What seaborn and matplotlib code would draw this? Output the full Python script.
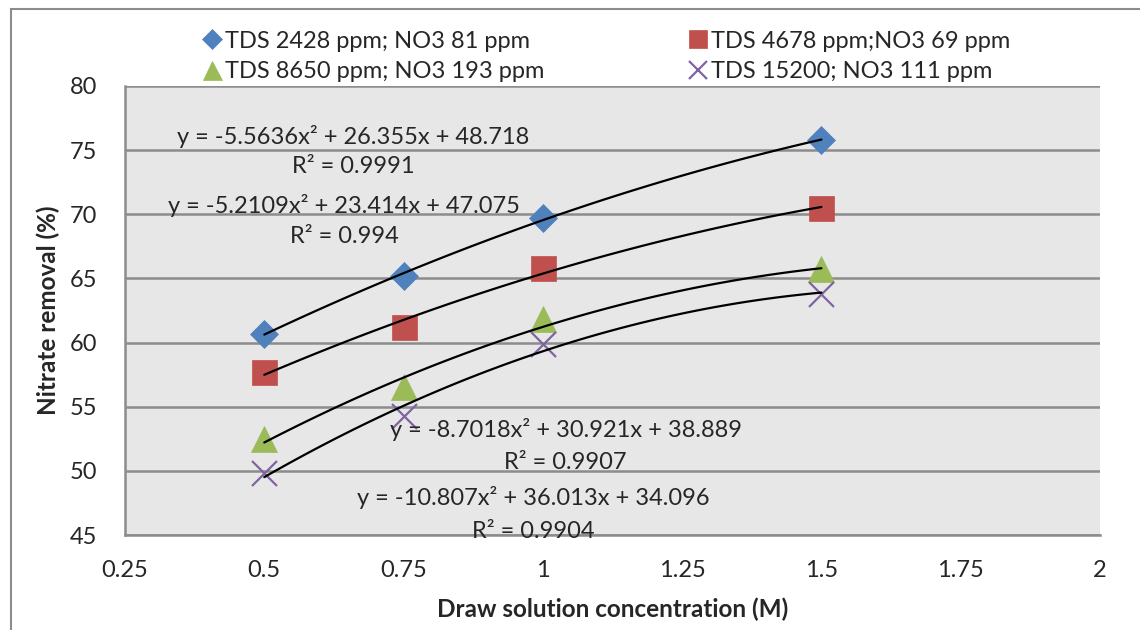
import matplotlib
matplotlib.use("Agg")
import matplotlib.pyplot as plt
import seaborn as sns
import pandas as pd
from matplotlib.patches import Rectangle

# data
conc = [0.5, 0.75, 1.0, 1.5]
tds_2428 = [60.7, 65.2, 69.7, 75.8]
tds_4678 = [57.7, 61.2, 65.8, 70.5]
tds_8650 = [52.5, 56.5, 61.8, 65.7]
tds_15200 = [49.8, 54.3, 59.9, 63.8]

series_names = ["TDS 2428 ppm; NO3 81 ppm", "TDS 4678 ppm;NO3 69 ppm",
                "TDS 8650 ppm; NO3 193 ppm", "TDS 15200; NO3 111 ppm"]
eq_labels = ["y = -5.5636x² + 26.355x + 48.718",
             "y = -5.2109x² + 23.414x + 47.075",
             "y = -8.7018x² + 30.921x + 38.889",
             "y = -10.807x² + 36.013x + 34.096"]
r2_labels = ["R² = 0.9991", "R² = 0.994", "R² = 0.9907", "R² = 0.9904"]
x_ticks = [0.25, 0.5, 0.75, 1, 1.25, 1.5, 1.75, 2]
x_ticklabels = ["0.25", "0.5", "0.75", "1", "1.25", "1.5", "1.75", "2"]
y_ticks = [45, 50, 55, 60, 65, 70, 75, 80]

sns.set_style("white")
plt.rcParams['font.family'] = ['Lato', 'DejaVu Sans']

fig = plt.figure(figsize=(11.4, 6.3), dpi=100)
ax = fig.add_axes([125 / 1140, 1 - 535 / 630, 975 / 1140, 449 / 630])
ax.set_facecolor("#E7E7E7")

fig.patches.append(Rectangle((11 / 1140, -0.05), 1.2, 1 - 9 / 630 + 0.05,
                             transform=fig.transFigure, fill=False,
                             edgecolor="#8C8C8C", lw=1.5))

colors = ["#4F81BD", "#C0504D", "#9BBB59", "#8064A2"]
markers = ["D", "s", "^", "x"]
sizes = [14, 18, 19, 18]
all_y = [tds_2428, tds_4678, tds_8650, tds_15200]

handles = []
for name, ys, c, m, s in zip(series_names, all_y, colors, markers, sizes):
    df = pd.DataFrame({"conc": conc, "removal": ys})
    h, = ax.plot(df["conc"], df["removal"], ls="none", marker=m, ms=s,
                 color=c, mec=c, mew=1.6 if m == "x" else 0.5, zorder=3,
                 label=name)
    handles.append(h)
    sns.regplot(data=df, x="conc", y="removal", order=2, ci=None,
                scatter=False, ax=ax,
                line_kws={"color": "black", "lw": 1.6, "zorder": 4})

# trendline equations
eq_pos = [(0.659, 76.03, 73.69), (0.643, 70.72, 68.23),
          (1.041, 53.19, 50.62), (0.982, 47.89, 45.24)]
for (ex, ey, ry), eq, r2 in zip(eq_pos, eq_labels, r2_labels):
    ax.text(ex, ey, eq, ha="center", va="center", fontsize=17, zorder=5)
    ax.text(ex, ry, r2, ha="center", va="center", fontsize=17, zorder=5,
            clip_on=False)

ax.set_xlim(0.25, 2)
ax.set_ylim(45, 80)
ax.set_xticks(x_ticks)
ax.set_xticklabels(x_ticklabels)
ax.set_yticks(y_ticks)
ax.yaxis.grid(True, color="#8C8C8C", lw=1.8)
ax.set_axisbelow(True)
ax.tick_params(axis="x", length=0, labelsize=17, pad=18)
ax.tick_params(axis="y", length=0, labelsize=17, pad=20)
for side in ["top", "right"]:
    ax.spines[side].set_visible(False)
for side in ["left", "bottom"]:
    ax.spines[side].set_color("#8C8C8C")
    ax.spines[side].set_linewidth(1.8)

ax.set_xlabel("Draw solution concentration (M)", fontsize=17.5,
              fontweight="bold", labelpad=12)
ax.set_ylabel("Nitrate removal (%)", fontsize=17.5, fontweight="bold",
              labelpad=7)

order = [0, 2, 1, 3]
leg = fig.legend([handles[i] for i in order], [series_names[i] for i in order],
                 ncol=2, loc="upper left", bbox_to_anchor=(186 / 1140, 1 - 14 / 630),
                 frameon=False, fontsize=17, handlelength=0.8, handletextpad=0.15,
                 columnspacing=6.1, labelspacing=0.42, markerscale=0.72,
                 borderpad=0.2)

fig.savefig("out.png", dpi=100)
